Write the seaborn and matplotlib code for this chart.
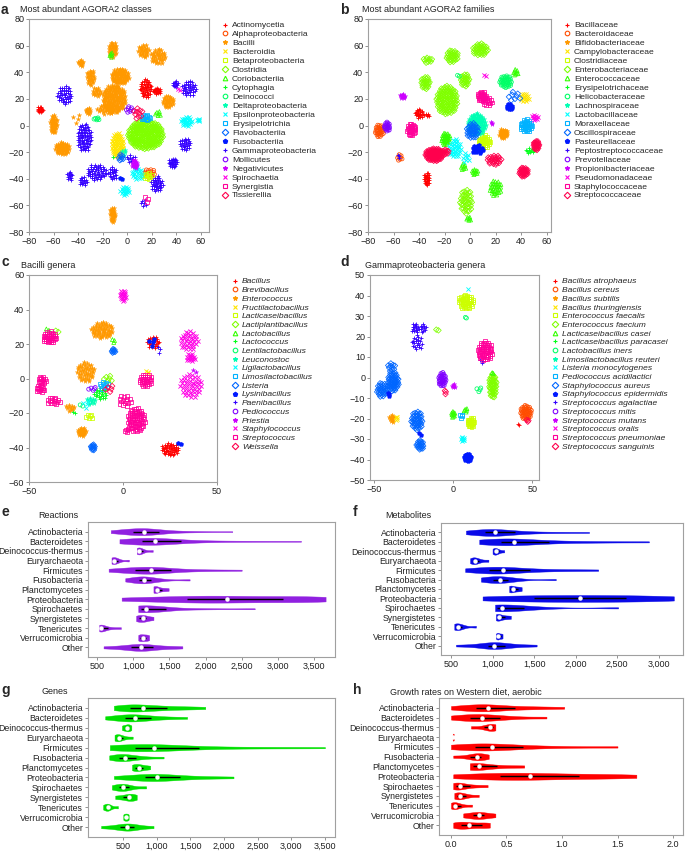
import colorsys
import numpy as np
import pandas as pd
import matplotlib
matplotlib.use("Agg")
import matplotlib.pyplot as plt
from matplotlib.lines import Line2D
from matplotlib.ticker import FuncFormatter
import seaborn as sns

sns.set_theme(style="white")
plt.rcParams["font.family"] = ["Liberation Sans", "DejaVu Sans"]

# ---------------- scatter panel data ----------------
a_title = "Most abundant AGORA2 classes"
a_labels = ["Actinomycetia", "Alphaproteobacteria", "Bacilli", "Bacteroidia", "Betaproteobacteria",
            "Clostridia", "Coriobacteriia", "Cytophagia", "Deinococci", "Deltaproteobacteria",
            "Epsilonproteobacteria", "Erysipelotrichia", "Flavobacteriia", "Fusobacteriia",
            "Gammaproteobacteria", "Mollicutes", "Negativicutes", "Spirochaetia", "Synergistia",
            "Tissierellia"]
# cluster: (x, y, class index, n points, spread x, spread y)
a_clusters = [
    (-71, 12, 0, 15, 2, 2), (-60, 1, 2, 35, 2.5, 6), (-53, -17, 2, 45, 5, 4), (-38, 47, 2, 12, 2, 2),
    (-30, 36, 2, 25, 3, 5), (-25, 25, 2, 15, 3, 3), (-32, 11, 2, 12, 2, 2), (-12, 57, 2, 30, 3, 5),
    (-6, 37, 2, 70, 6, 5), (-11, 20, 2, 140, 8, 9), (-18, 12, 2, 20, 6, 3), (13, 56, 2, 25, 4, 4),
    (25, 52, 2, 35, 5, 5), (33, 18, 2, 30, 4, 4), (-12, -67, 2, 25, 2, 5), (-42, 5, 2, 4, 4, 3),
    (-51, 23, 14, 40, 5, 6), (-35, -9, 14, 70, 5, 9), (-25, -35, 14, 50, 7, 5), (-12, -36, 14, 20, 3, 4),
    (-47, -38, 14, 12, 2, 3), (-36, -42, 14, 15, 3, 3), (39, 31, 14, 12, 2, 2), (50, 28, 14, 35, 5, 5),
    (47, -14, 14, 25, 4, 4), (37, -28, 14, 25, 3, 3), (24, -44, 14, 35, 4, 5), (3, -25, 14, 10, 3, 3),
    (13, -58, 14, 6, 2, 3), (15, 28, 0, 45, 4, 6), (24, 26, 0, 20, 3, 2), (15, -7, 5, 220, 12, 9),
    (-8, -15, 3, 70, 4, 8), (48, 3, 10, 25, 4, 3), (58, 4, 10, 5, 1, 1), (-2, -49, 10, 18, 3, 3),
    (8, -36, 10, 20, 4, 4), (15, 6, 11, 15, 3, 2), (6, -29, 16, 15, 2, 3), (18, -36, 1, 18, 4, 3),
    (-5, -24, 12, 8, 2, 2), (2, 12, 15, 8, 3, 2), (9, 9, 19, 10, 3, 4), (25, 9, 6, 6, 2, 2),
    (-13, 53, 6, 5, 1, 2), (16, -38, 4, 12, 4, 2), (16, -55, 18, 3, 2, 2), (-25, 5, 8, 6, 2, 1),
    (42, 27, 17, 2, 1, 1), (-12, -24, 7, 1, 0, 0), (-3, -20, 9, 4, 2, 2), (-5, -40, 13, 2, 1, 1),
]

b_title = "Most abundant AGORA2 families"
b_labels = ["Bacillaceae", "Bacteroidaceae", "Bifidobacteriaceae", "Campylobacteraceae", "Clostridiaceae",
            "Enterobacteriaceae", "Enterococcaceae", "Erysipelotrichaceae", "Helicobacteraceae",
            "Lachnospiraceae", "Lactobacillaceae", "Moraxellaceae", "Oscillospiraceae", "Pasteurellaceae",
            "Peptostreptococcaceae", "Prevotellaceae", "Propionibacteriaceae", "Pseudomonadaceae",
            "Staphylococcaceae", "Streptococcaceae"]
b_clusters = [
    (8, 57, 5, 35, 5, 4), (-14, 52, 5, 30, 4, 4), (-33, 49, 5, 10, 3, 2), (-35, 32, 5, 25, 3, 4),
    (-18, 19, 5, 110, 7, 9), (-4, 34, 5, 25, 3, 4), (-3, -57, 5, 40, 4, 8), (-1, -70, 6, 6, 1.5, 1.5),
    (20, -47, 6, 30, 4, 5), (-19, -10, 6, 30, 3, 4), (-5, -31, 6, 8, 2, 2), (4, -35, 6, 10, 2, 2),
    (28, 33, 8, 40, 4, 4), (36, 40, 6, 8, 2, 2), (-9, 37, 8, 2, 1, 1), (-40, 9, 0, 20, 3, 3),
    (-34, 8, 0, 6, 2, 1), (-28, -22, 19, 80, 6, 4), (-19, -20, 19, 10, 2, 2), (-34, -40, 0, 25, 2, 4),
    (19, -26, 19, 25, 5, 3), (42, -35, 19, 30, 3, 3), (52, -15, 19, 25, 2, 3), (9, 22, 18, 25, 3, 3),
    (14, 18, 18, 15, 3, 3), (-71, -4, 1, 30, 3, 4), (-55, -24, 1, 8, 2, 2), (-65, -1, 15, 20, 2, 3),
    (-53, 22, 16, 12, 2, 1.5), (17, 2, 16, 3, 1, 1), (-46, -3, 18, 30, 3, 4), (-12, -17, 10, 35, 4, 6),
    (-3, -24, 10, 8, 3, 3), (5, 1, 9, 90, 6, 7), (2, -4, 12, 35, 4, 5), (44, 0, 11, 35, 4, 4),
    (26, -6, 2, 30, 3, 3), (11, -12, 4, 35, 4, 4), (43, 21, 3, 15, 3, 3), (31, 14, 13, 15, 2, 2),
    (6, -18, 13, 15, 4, 3), (47, -19, 7, 10, 3, 2), (51, 6, 17, 10, 2, 2), (12, 37, 17, 2, 1, 1),
    (-56, -23, 14, 3, 1, 1), (35, 22, 12, 8, 5, 3),
]

c_title = "Bacilli genera"
c_labels = ["Bacillus", "Brevibacillus", "Enterococcus", "Fructilactobacillus", "Lacticaseibacillus",
            "Lactiplantibacillus", "Lactobacillus", "Lactococcus", "Lentilactobacillus", "Leuconostoc",
            "Ligilactobacillus", "Limosilactobacillus", "Listeria", "Lysinibacillus", "Paenibacillus",
            "Pediococcus", "Priestia", "Staphylococcus", "Streptococcus", "Weissella"]
c_clusters = [
    (0, 48, 17, 18, 1.5, 3), (35, 22, 17, 35, 4, 5), (36, 12, 17, 15, 2, 2), (36, -4, 17, 45, 5, 6),
    (-39, 24, 18, 35, 3, 3), (-43, -1, 18, 15, 2, 2), (-44, -6, 18, 15, 2, 2), (-37, -13, 18, 15, 3, 2),
    (7, -24, 18, 70, 4, 6), (1, -13, 18, 15, 3, 3), (12, -1, 18, 30, 3, 3), (2, -30, 18, 5, 1, 1),
    (-11, 28, 2, 55, 5, 4), (-20, 4, 2, 45, 4, 5), (-28, -17, 2, 10, 2, 2), (-22, -31, 2, 25, 2, 2),
    (16, 21, 0, 25, 3, 3), (25, -41, 0, 45, 4, 3), (-16, -40, 12, 12, 1, 1.5), (-5, 16, 12, 8, 1, 1),
    (-12, -9, 7, 20, 3, 3), (-17, -13, 9, 10, 2, 2), (-18, -22, 4, 6, 1.5, 1.5), (-10, -4, 11, 10, 2, 2),
    (-16, -6, 15, 5, 2, 1), (-7, -6, 19, 5, 2, 2), (15, 21, 13, 4, 2, 2), (-8, 0, 5, 6, 2, 2),
    (-5, 22, 6, 3, 1, 1), (-20, -15, 10, 4, 2, 2), (-40, 28, 6, 2, 1, 1), (-35, 27, 5, 2, 1, 1),
    (13, 4, 3, 3, 1, 1), (-22, -16, 8, 2, 1, 1), (30, -38, 13, 2, 1, 1), (19, 17, 14, 3, 1, 2),
    (38, 4, 16, 2, 1, 1), (-26, -20, 7, 2, 1, 1),
]

d_title = "Gammaproteobacteria genera"
d_labels = ["Bacillus atrophaeus", "Bacillus cereus", "Bacillus subtilis", "Bacillus thuringiensis",
            "Enterococcus faecalis", "Enterococcus faecium", "Lacticaseibacillus casei",
            "Lacticaseibacillus paracasei", "Lactobacillus iners", "Limosilactobacillus reuteri",
            "Listeria monocytogenes", "Pediococcus acidilactici", "Staphylococcus aureus",
            "Staphylococcus epidermidis", "Streptococcus agalactiae", "Streptococcus mitis",
            "Streptococcus mutans", "Streptococcus oralis", "Streptococcus pneumoniae",
            "Streptococcus sanguinis"]
d_clusters = [
    (8, 37, 4, 45, 4, 3), (9, 43, 10, 1, 0, 0), (8, 29, 8, 2, 0.5, 0.5), (-24, 24, 14, 15, 2, 2),
    (-19, 24, 14, 10, 1.5, 2), (-23, 17, 14, 20, 3, 3), (-10, 23, 5, 2, 1, 0.5), (20, 13, 18, 55, 4, 4),
    (18, 8, 14, 3, 2, 1), (-39, 5, 12, 10, 2, 2), (-45, -6, 12, 30, 3, 3), (-38, -2, 12, 50, 3, 4),
    (-23, -21, 12, 40, 3, 4), (-21, -33, 12, 20, 2, 2), (-41, -8, 13, 3, 1, 1), (-21, -28, 13, 2, 1, 1),
    (-7, -1, 15, 35, 2, 3), (0, -4, 16, 6, 1, 1), (-5, -7, 19, 3, 0.5, 1), (25, -4, 5, 45, 2, 5),
    (25, 2, 6, 2, 0.5, 0.5), (46, -17, 1, 45, 3, 3), (41, -23, 0, 2, 0.5, 0.5), (47, -21, 19, 3, 1, 0.5),
    (-39, -20, 2, 12, 1.5, 1.5), (-36, -20, 3, 4, 0.5, 1), (0, -18, 6, 10, 1, 1.5), (8, -16, 6, 5, 1, 1),
    (16, -6, 8, 4, 2, 1), (6, -30, 10, 8, 1, 1), (5, -19, 11, 4, 1, 1), (9, -39, 13, 25, 2, 1.5),
    (11, -22, 4, 25, 2, 2),
]

marker_cycle = ["+", "o", "*", "x", "s", "D", "^", "+", "o", "*", "x", "s", "D", "p",
                "+", "o", "*", "x", "s", "D"]
open_markers = {"o", "s", "D", "^"}
palette20 = [colorsys.hsv_to_rgb(i / 20, 1, 1) for i in range(20)]

# ---------------- violin panel data ----------------
phyla = ["Actinobacteria", "Bacteroidetes", "Deinococcus-thermus", "Euryarchaeota", "Firmicutes",
         "Fusobacteria", "Planctomycetes", "Proteobacteria", "Spirochaetes", "Synergistetes",
         "Tenericutes", "Verrucomicrobia", "Other"]

reactions = [
    [690, 760, 850, 920, 980, 1030, 1080, 1110, 1130, 1160, 1200, 1250, 1300, 1380, 1500, 1700, 1950, 2370],
    [810, 900, 980, 1060, 1140, 1200, 1250, 1280, 1320, 1380, 1450, 1600, 1850, 2200, 2700, 3320],
    [1050, 1070, 1080, 1090, 1150, 1270],
    [700, 710, 730, 750, 800, 940],
    [660, 780, 880, 980, 1080, 1160, 1220, 1240, 1280, 1350, 1450, 1600, 1800, 2100, 2500],
    [890, 1000, 1080, 1120, 1150, 1180, 1250, 1400, 1780],
    [1280, 1300, 1300, 1350, 1420, 1490],
    [840, 1200, 1550, 1800, 2000, 2190, 2400, 2700, 3000, 3300, 3500, 3660],
    [1070, 1080, 1100, 1110, 1150, 1200, 1300, 1500, 2000, 2680],
    [1040, 1080, 1140, 1180, 1280],
    [530, 540, 545, 560, 600, 700, 830],
    [1070, 1100, 1140, 1180, 1220],
    [590, 800, 950, 1050, 1090, 1120, 1200, 1300, 1500, 1680],
]
metabolites = [
    [680, 750, 830, 900, 960, 1000, 1020, 1050, 1100, 1200, 1300, 1500, 1800, 2160],
    [840, 950, 1050, 1120, 1180, 1220, 1300, 1400, 1600, 1900, 2300, 2880],
    [1000, 1020, 1030, 1050, 1080, 1140],
    [730, 760, 780, 800, 850, 950],
    [670, 800, 900, 980, 1050, 1110, 1150, 1250, 1400, 1600, 1900, 2270],
    [860, 950, 1020, 1070, 1100, 1150, 1300, 1760],
    [1200, 1210, 1250, 1300, 1350],
    [880, 1200, 1500, 1800, 2050, 2300, 2600, 2900, 3180],
    [1030, 1040, 1060, 1080, 1150, 1300, 1600, 2510],
    [1040, 1060, 1080, 1150, 1220],
    [540, 555, 570, 600, 650, 800],
    [1040, 1060, 1070, 1100, 1120],
    [560, 800, 950, 1000, 1020, 1050, 1150, 1300, 1530],
]
genes = [
    [360, 450, 550, 620, 690, 750, 850, 1000, 1100, 1300, 1500, 1720],
    [230, 400, 500, 580, 650, 700, 800, 950, 1150, 1450],
    [480, 520, 560, 580, 620],
    [370, 400, 420, 450, 520, 640],
    [300, 450, 600, 700, 820, 900, 1000, 1200, 1500, 2000, 2700, 3500],
    [290, 400, 450, 490, 550, 650, 800, 1100],
    [630, 680, 730, 800, 900],
    [360, 600, 800, 900, 960, 1050, 1200, 1400, 1700, 2140],
    [330, 420, 480, 520, 600, 840],
    [380, 500, 590, 620, 700],
    [200, 250, 270, 290, 420],
    [500, 520, 540, 560, 580],
    [170, 400, 500, 560, 620, 700, 950],
]
growth = [
    [0.0, 0.1, 0.2, 0.25, 0.29, 0.33, 0.4, 0.5, 0.65, 0.8, 1.02],
    [0.0, 0.1, 0.2, 0.25, 0.3, 0.4, 0.55, 0.86],
    [0.18, 0.3, 0.35, 0.38, 0.4],
    [0.015, 0.02, 0.025],
    [0.0, 0.1, 0.2, 0.28, 0.33, 0.4, 0.5, 0.7, 1.0, 1.5],
    [0.02, 0.15, 0.22, 0.24, 0.28, 0.34],
    [0.17, 0.2, 0.21, 0.3, 0.45, 0.66],
    [0.02, 0.2, 0.4, 0.55, 0.63, 0.8, 1.0, 1.2, 1.45, 1.67],
    [0.02, 0.04, 0.06, 0.1, 0.2, 0.33],
    [0.03, 0.05, 0.07, 0.1, 0.15, 0.25],
    [0.0, 0.02, 0.03, 0.05, 0.1, 0.19],
    [0.11, 0.2, 0.25, 0.3, 0.4],
    [0.02, 0.08, 0.12, 0.2, 0.3, 0.35],
]

# ---------------- figure ----------------
W, H = 685, 851
fig = plt.figure(figsize=(W / 100, H / 100), dpi=100)


def add_ax(l, r, t, b):
    return fig.add_axes([l / W, 1 - b / H, (r - l) / W, (b - t) / H])


def style_ax(ax):
    for s in ax.spines.values():
        s.set_color("#a0a0a0")
        s.set_linewidth(0.8)
    ax.tick_params(axis="both", which="both", direction="out", length=2, width=0.6,
                   color="#808080", labelsize=6.5, pad=1.5, labelcolor="#222222",
                   bottom=True, left=True)


def blob(cx, cy, n, sx, sy):
    k = np.arange(n)
    r = np.sqrt((k + 0.5) / n)
    th = k * 2.39996
    return cx + 1.2 * sx * r * np.cos(th), cy + 1.2 * sy * r * np.sin(th)


def scatter_panel(ax, clusters, labels, italic, leg_dx, spacing):
    rows = []
    for cx, cy, ci, n, sx, sy in clusters:
        xs, ys = blob(cx, cy, n, sx, sy)
        for xv, yv in zip(xs, ys):
            rows.append((xv, yv, ci))
    df = pd.DataFrame(rows, columns=["x", "y", "cls"])
    for ci in range(len(labels)):
        sub = df[df["cls"] == ci]
        if sub.empty:
            continue
        m = marker_cycle[ci]
        col = palette20[ci]
        if m in open_markers:
            sns.scatterplot(data=sub, x="x", y="y", ax=ax, marker=m, s=8, color=col,
                            facecolor="none", edgecolor=col, linewidth=0.55, legend=False)
        elif m in ("*", "p"):
            sns.scatterplot(data=sub, x="x", y="y", ax=ax, marker=m, s=12, color=col,
                            edgecolor=col, linewidth=0.2, legend=False)
        else:
            sns.scatterplot(data=sub, x="x", y="y", ax=ax, marker=m, s=9, color=col,
                            linewidth=0.6, legend=False)
    ax.set_xlabel("")
    ax.set_ylabel("")
    handles = []
    for ci, lab in enumerate(labels):
        m = marker_cycle[ci]
        col = palette20[ci]
        fc = "none" if m in open_markers else col
        handles.append(Line2D([], [], ls="none", marker=m, markersize=3.3, color=col,
                              markeredgecolor=col, markerfacecolor=fc, markeredgewidth=0.8))
    prop = {"size": 6.1}
    if italic:
        prop["style"] = "italic"
    ax.legend(handles, labels, loc="upper left", bbox_to_anchor=(1 + leg_dx, 1.0), frameon=False,
              prop=prop, borderaxespad=0.3, borderpad=0, handlelength=1.0, handletextpad=0.35,
              labelspacing=spacing)


# panel a
ax_a = add_ax(29, 209, 19, 232)
scatter_panel(ax_a, a_clusters, a_labels, False, 9 / 180, 0.12)
ax_a.set_xlim(-80, 66.5)
ax_a.set_ylim(-80, 80)
ax_a.set_xticks(np.arange(-80, 61, 20))
ax_a.set_yticks(np.arange(-80, 81, 20))
style_ax(ax_a)

# panel b
ax_b = add_ax(368, 551, 19, 232)
scatter_panel(ax_b, b_clusters, b_labels, False, 9 / 183, 0.12)
ax_b.set_xlim(-80, 63.5)
ax_b.set_ylim(-80, 80)
ax_b.set_xticks(np.arange(-80, 61, 20))
ax_b.set_yticks(np.arange(-80, 81, 20))
style_ax(ax_b)

# panel c
ax_c = add_ax(29, 217, 275, 482)
scatter_panel(ax_c, c_clusters, c_labels, True, 11 / 188, 0.09)
ax_c.set_xlim(-50, 50)
ax_c.set_ylim(-60, 60)
ax_c.set_xticks([-50, 0, 50])
ax_c.set_yticks(np.arange(-60, 61, 20))
style_ax(ax_c)

# panel d
ax_d = add_ax(370, 539, 275, 480)
scatter_panel(ax_d, d_clusters, d_labels, True, 9 / 169, 0.09)
ax_d.set_xlim(-52.7, 54.2)
ax_d.set_ylim(-50, 50)
ax_d.set_xticks([-50, 0, 50])
ax_d.set_yticks(np.arange(-50, 51, 10))
style_ax(ax_d)


def violin_panel(ax, values, color, xlim, xticks, fmt):
    rows = [(p, v) for p, vals in zip(phyla, values) for v in vals]
    df = pd.DataFrame(rows, columns=["phylum", "value"])
    sns.violinplot(data=df, x="value", y="phylum", order=phyla, orient="h", color=color,
                   saturation=1, cut=0, density_norm="width", inner=None, linewidth=0.3,
                   linecolor=color, width=0.72, bw_adjust=0.8, ax=ax)
    for i, vals in enumerate(values):
        arr = np.asarray(vals, dtype=float)
        q1, med, q3 = np.percentile(arr, [25, 50, 75])
        ax.plot([q1, q3], [i, i], color="black", lw=1.0, solid_capstyle="butt", zorder=3)
        ax.plot([med], [i], marker="o", ms=2.2, mfc="white", mec="white", ls="none", zorder=4)
    ax.set_ylim(len(phyla), -1)
    ax.set_xlim(*xlim)
    ax.set_xticks(xticks)
    ax.xaxis.set_major_formatter(FuncFormatter(fmt))
    ax.set_xlabel("")
    ax.set_ylabel("")
    style_ax(ax)
    ax.tick_params(axis="y", labelsize=6.3)


comma = lambda v, p: f"{int(v):,}"
dec = lambda v, p: f"{v:.1f}"

ax_e = add_ax(88, 335, 522, 657)
violin_panel(ax_e, reactions, "#9020e0", (375, 3790), np.arange(500, 3501, 500), comma)
ax_f = add_ax(441, 683, 523, 655)
violin_panel(ax_f, metabolites, "#0a0ae8", (380, 3290), np.arange(500, 3001, 500), comma)
ax_g = add_ax(88, 335, 698, 837)
violin_panel(ax_g, genes, "#00e000", (-25, 3650), np.arange(500, 3501, 500), comma)
ax_h = add_ax(439, 683, 698, 835)
violin_panel(ax_h, growth, "#ff0000", (-0.108, 2.09), np.arange(0, 2.01, 0.5), dec)

# letters and titles
letters = [("a", 1, 10), ("b", 340, 10), ("c", 1, 262), ("d", 340, 262),
           ("e", 1, 512), ("f", 353, 512), ("g", 1, 690), ("h", 353, 690)]
for t, x, y in letters:
    fig.text(x / W, 1 - y / H, t, fontsize=10, fontweight="bold", va="center", ha="left")
titles = [(a_title, 20, 10), (b_title, 362, 10), (c_title, 21, 265), (d_title, 365, 265),
          ("Reactions", 38, 515), ("Metabolites", 385, 515), ("Genes", 42, 692),
          ("Growth rates on Western diet, aerobic", 390, 692)]
for t, x, y in titles:
    fig.text(x / W, 1 - y / H, t, fontsize=6.5, va="center", ha="left", color="#222222")

fig.savefig("out.png", dpi=100)
